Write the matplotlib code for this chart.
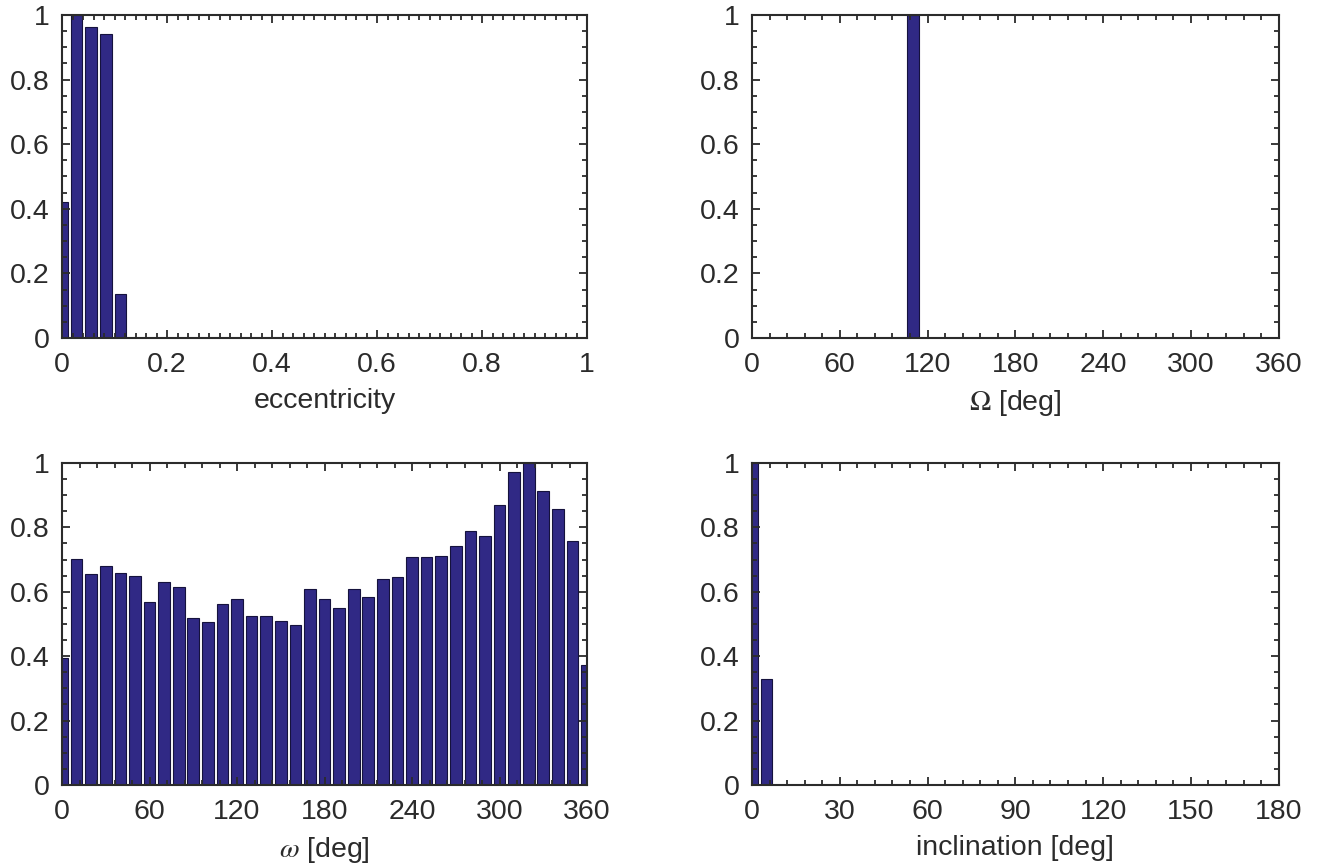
import numpy as np
import matplotlib.pyplot as plt
from matplotlib.ticker import MultipleLocator, FormatStrFormatter

plt.rcParams['font.family'] = ['Liberation Sans', 'DejaVu Sans']
plt.rcParams['mathtext.fontset'] = 'stix'

# normalised histograms (37 bins each)
ecc_centers = np.linspace(0, 1, 37)
ecc_counts = [0.421, 1.0, 0.962, 0.940, 0.135] + [0.0] * 32

node_centers = [110]
node_counts = [1.0]

argp_centers = np.arange(0, 361, 10)
argp_counts = [0.393, 0.701, 0.655, 0.680, 0.658, 0.648, 0.569, 0.629, 0.615,
               0.520, 0.506, 0.563, 0.577, 0.524, 0.526, 0.509, 0.498, 0.609,
               0.577, 0.548, 0.609, 0.583, 0.638, 0.647, 0.709, 0.709, 0.712,
               0.741, 0.790, 0.772, 0.870, 0.973, 1.0, 0.912, 0.858, 0.759,
               0.372]

inc_centers = [0, 5]
inc_counts = [1.0, 0.329]

bar_color = '#302985'
ink = '#2b2b2b'

fig = plt.figure(figsize=(13.2, 8.66), dpi=100)

panels = [
    ([0.047, 0.6097, 0.3977, 0.373], ecc_centers, ecc_counts, 1 / 36,
     (0, 1), 0.2, 0.02, 'eccentricity', '%g'),
    ([0.5697, 0.6097, 0.399, 0.373], node_centers, node_counts, 10,
     (0, 360), 60, 12, r'$\Omega$ [deg]', '%d'),
    ([0.047, 0.0935, 0.3977, 0.372], argp_centers, argp_counts, 10,
     (0, 360), 60, 12, r'$\omega$ [deg]', '%d'),
    ([0.5697, 0.0935, 0.399, 0.372], inc_centers, inc_counts, 5,
     (0, 180), 30, 6, 'inclination [deg]', '%d'),
]

for rect, centers, counts, step, xlim, major, minor, label, fmt in panels:
    ax = fig.add_axes(rect)
    ax.bar(centers, counts, width=0.8 * step, color=bar_color,
           edgecolor='#15123d', linewidth=0.8)
    ax.set_xlim(*xlim)
    ax.set_ylim(0, 1)
    ax.xaxis.set_major_locator(MultipleLocator(major))
    ax.xaxis.set_minor_locator(MultipleLocator(minor))
    ax.yaxis.set_major_locator(MultipleLocator(0.2))
    ax.yaxis.set_minor_locator(MultipleLocator(0.05))
    ax.xaxis.set_major_formatter(FormatStrFormatter(fmt))
    ax.yaxis.set_major_formatter(FormatStrFormatter('%g'))
    ax.tick_params(which='both', direction='in', top=True, right=True,
                   colors=ink, labelsize=20.5, width=1.3)
    ax.tick_params(which='major', length=6)
    ax.tick_params(axis='x', which='major', pad=10)
    ax.tick_params(axis='y', which='major', pad=9)
    ax.tick_params(which='minor', length=3.5)
    for s in ax.spines.values():
        s.set_linewidth(1.5)
        s.set_color(ink)
    ax.set_xlabel(label, fontsize=20.5, color=ink, labelpad=7)

fig.savefig('out.png', dpi=100)
